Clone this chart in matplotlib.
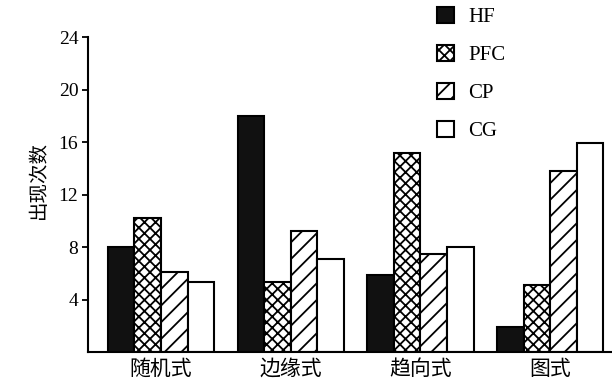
import matplotlib.pyplot as plt
import numpy as np

plt.rcParams['font.family'] = ['Liberation Serif', 'Noto Sans CJK SC']
plt.rcParams['hatch.linewidth'] = 1.3

categories = ['随机式', '边缘式', '趋向式', '图式']
series = ['HF', 'PFC', 'CP', 'CG']
hf = [8.0, 18.0, 5.9, 1.9]
pfc = [10.2, 5.3, 15.2, 5.1]
cp = [6.1, 9.2, 7.5, 13.8]
cg = [5.3, 7.1, 8.0, 15.9]

values = [hf, pfc, cp, cg]
faces = ['#111111', 'white', 'white', 'white']
hatches = [None, 'xxx', '//', None]

fig = plt.figure(figsize=(6.12, 3.85), dpi=100)
ax = fig.add_axes([0.1438, 0.0857, 0.8562, 0.818])

x = np.arange(len(categories))
w = 0.205
for i, vals in enumerate(values):
    ax.bar(x + (i - 1.5) * w, vals, w, color=faces[i], edgecolor='black',
           hatch=hatches[i], linewidth=1.5, label=series[i])

ax.set_xlim(-0.563, 3.477)
ax.set_ylim(0, 24)
ax.set_yticks([4, 8, 12, 16, 20, 24])
ax.set_xticks(x)
ax.set_xticklabels(categories, fontsize=15, family='Noto Sans CJK SC')
ax.tick_params(axis='x', length=0, pad=4)
ax.tick_params(axis='y', length=4, width=1.3, labelsize=14, pad=3)
ax.spines['top'].set_visible(False)
ax.spines['right'].set_visible(False)
ax.spines['left'].set_linewidth(1.5)
ax.spines['bottom'].set_linewidth(1.5)
ax.set_ylabel('出现次数', fontsize=14, family='Noto Sans CJK SC')
ax.yaxis.set_label_coords(-0.075, 0.545)

ax.legend(loc='upper left', bbox_to_anchor=(0.63, 1.155), frameon=False,
          fontsize=15, handlelength=0.8, handleheight=0.8, labelspacing=0.85,
          handletextpad=0.7)

plt.savefig('out.png', dpi=100)
